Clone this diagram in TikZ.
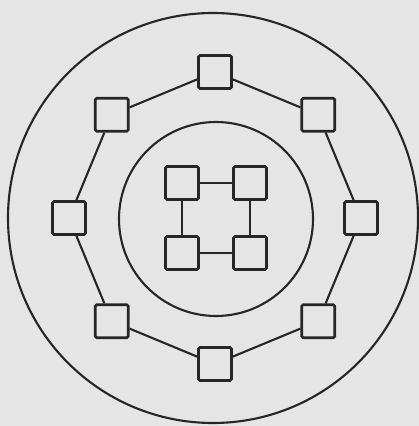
\documentclass[tikz,border=0pt]{standalone}
\definecolor{paper}{gray}{0.9}
\definecolor{ink}{gray}{0.15}
\begin{document}
\begin{tikzpicture}[box/.style={rectangle,draw=ink,line width=1.5pt,rounded corners=0.8pt,minimum size=0.66cm,inner sep=0pt},ring/.style={draw=ink,line width=1.2pt}]
\fill[paper] (-4.3,-4.16) rectangle (4.08,4.36);
\useasboundingbox (-4.3,-4.16) rectangle (4.08,4.36);
\draw[ring] (-0.04,0) circle (4.1);
\draw[ring] (0.02,-0.02) circle (1.94);
\node[box] (r1) at (90:2.92) {};
\node[box] (r2) at (135:2.92) {};
\node[box] (r3) at (180:2.92) {};
\node[box] (r4) at (225:2.92) {};
\node[box] (r5) at (270:2.92) {};
\node[box] (r6) at (315:2.92) {};
\node[box] (r7) at (0:2.92) {};
\node[box] (r8) at (45:2.92) {};
\node[box] (k1) at (-0.66,0.70) {};
\node[box] (k2) at (0.70,0.70) {};
\node[box] (k3) at (-0.66,-0.70) {};
\node[box] (k4) at (0.70,-0.70) {};
\path[ring] (r1) edge (r2); \path[ring] (r2) edge (r3); \path[ring] (r3) edge (r4);
\path[ring] (r4) edge (r5); \path[ring] (r5) edge (r6); \path[ring] (r6) edge (r7);
\path[ring] (r7) edge (r8); \path[ring] (r8) edge (r1);
\path[ring] (k1) edge (k2); \path[ring] (k3) edge (k4);
\path[ring] (k1) edge (k3); \path[ring] (k2) edge (k4);
\end{tikzpicture}
\end{document}
